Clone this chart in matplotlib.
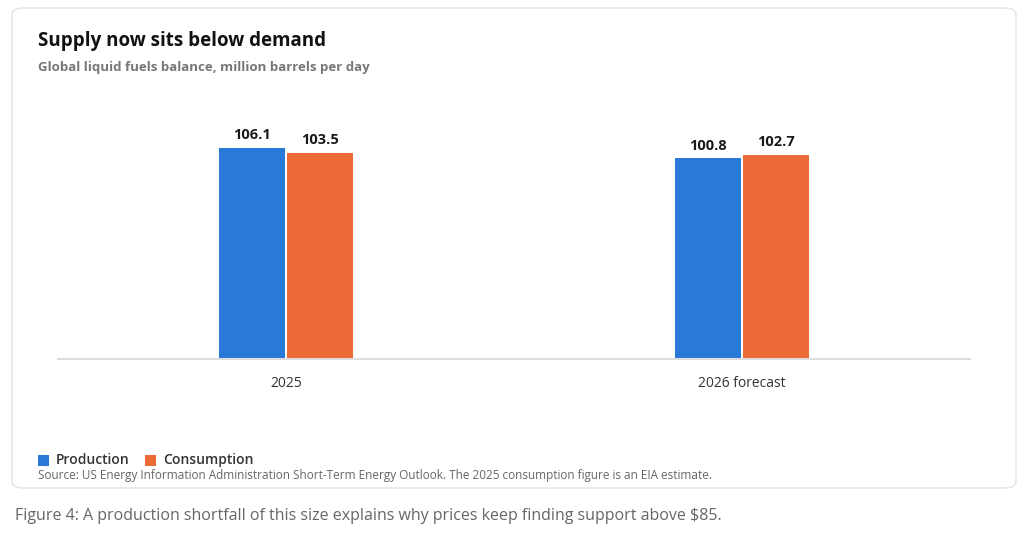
import matplotlib.pyplot as plt
import numpy as np
from matplotlib.patches import FancyBboxPatch, Rectangle

plt.rcParams["font.family"] = ["Open Sans", "DejaVu Sans"]

categories = ["2025", "2026 forecast"]
production = [106.1, 100.8]
consumption = [103.5, 102.7]
series_names = ["Production", "Consumption"]
colors = ["#2979D9", "#EC6A35"]

W, H = 1024, 545
fig = plt.figure(figsize=(W / 100, H / 100), dpi=100)
fig.patch.set_facecolor("white")

# card behind everything
card = FancyBboxPatch((12 / W, 1 - 488 / H), 1004 / W, 480 / H,
                      boxstyle="round,pad=0,rounding_size=0.012",
                      transform=fig.transFigure, facecolor="white",
                      edgecolor="#E3E3E3", linewidth=1, zorder=-10)
fig.patches.append(card)

ax = fig.add_axes([58 / W, 1 - 359 / H, 912 / W, 259 / H])
ax.set_zorder(5)
ax.patch.set_visible(False)
x = np.arange(len(categories))
w = 0.145
gap = 0.0022
for i, vals in enumerate([production, consumption]):
    offs = (-w / 2 - gap) if i == 0 else (w / 2 + gap)
    bars = ax.bar(x + offs, vals, width=w, color=colors[i])
    for b, v in zip(bars, vals):
        ax.text(b.get_x() + b.get_width() / 2, v + 3, f"{v:.1f}",
                ha="center", va="bottom", fontsize=10.5, fontweight="bold",
                color="#1a1a1a")
ax.set_xlim(-0.5, 1.5)
ax.set_ylim(0, 130.2)
ax.set_yticks([])
ax.set_xticks(x)
ax.set_xticklabels(categories, fontsize=10, color="#333333")
ax.tick_params(axis="x", length=0, pad=12)
for s in ["top", "right", "left"]:
    ax.spines[s].set_visible(False)
ax.spines["bottom"].set_color("#DDDDDD")
ax.spines["bottom"].set_linewidth(1.5)

fig.text(38 / W, 1 - 41 / H, "Supply now sits below demand", fontsize=13.5,
         fontweight="bold", color="#111111", va="center")
fig.text(38 / W, 1 - 68 / H, "Global liquid fuels balance, million barrels per day",
         fontsize=9.5, fontweight="bold", color="#777777", va="center")

# legend
lx = 38
for name, c in zip(series_names, colors):
    fig.patches.append(Rectangle((lx / W, 1 - 466 / H), 11 / W, 11 / H,
                                 transform=fig.transFigure, facecolor=c))
    fig.text((lx + 18) / W, 1 - 460 / H, name, fontsize=10,
             fontweight="semibold", color="#333333", va="center")
    lx += 18 + len(name) * 7.7 + 12
fig.text(38 / W, 1 - 475 / H,
         "Source: US Energy Information Administration Short-Term Energy Outlook. "
         "The 2025 consumption figure is an EIA estimate.",
         fontsize=8.5, color="#666666", va="center")

fig.text(15 / W, 1 - 516 / H,
         "Figure 4: A production shortfall of this size explains why prices keep finding support above $85.",
         fontsize=11.5, color="#666666", va="center")

fig.savefig("out.png", dpi=100)
